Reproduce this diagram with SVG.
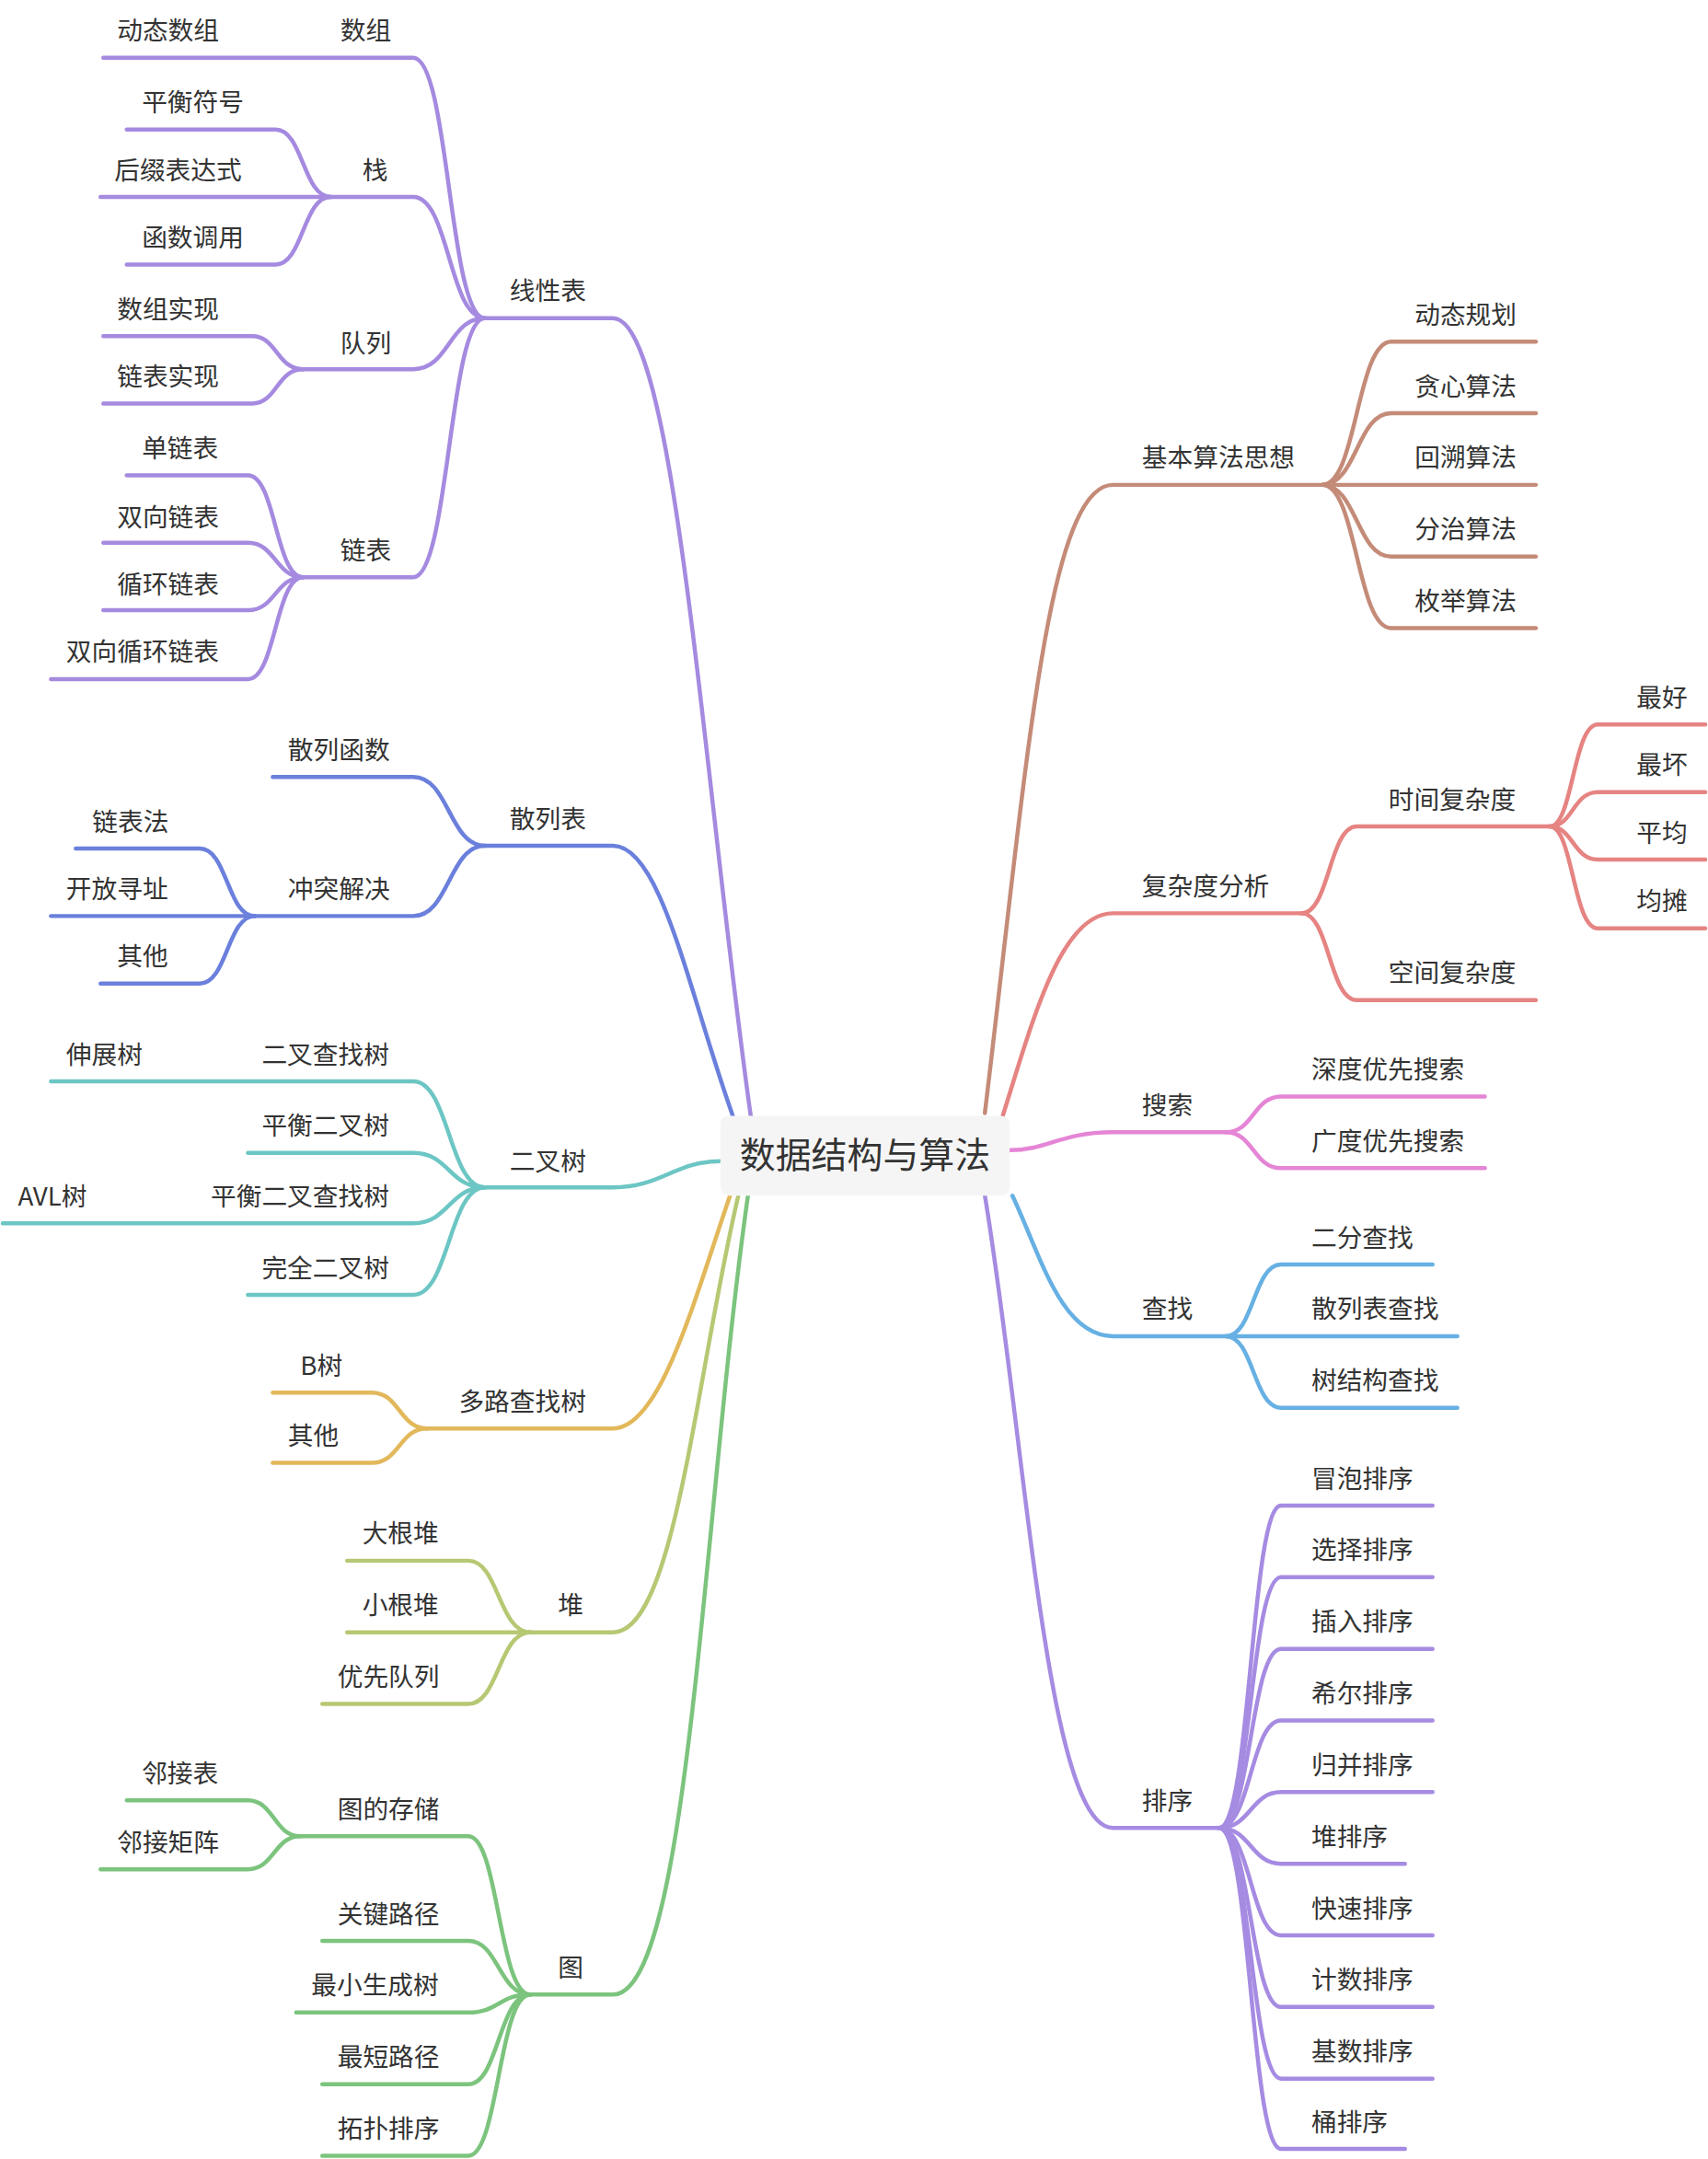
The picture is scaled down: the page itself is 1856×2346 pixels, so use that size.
<svg xmlns="http://www.w3.org/2000/svg" width="1856" height="2346" viewBox="0 0 1856 2346">
<style>
path{fill:none;stroke-width:3;stroke-linecap:round;stroke-linejoin:round}
text{font-family:"Noto Sans CJK SC","Noto Sans",sans-serif;font-size:18.5px;fill:#333}
.p{stroke:#a58ae0}.b{stroke:#6b80dc}.t{stroke:#6cc6c4}.y{stroke:#e2b85a}.o{stroke:#b6c873}.g{stroke:#7cc47e}
.br{stroke:#c48b78}.r{stroke:#e58482}.pk{stroke:#e585d6}.lb{stroke:#67b0e3}.ps{stroke:#a68be2}
</style>
<rect width="1856" height="2346" fill="#fff"/>
<g transform="scale(1.4968)">
<g id="connectors">
<path class="p" d="M75 42L300 42C326 42 326 231 352 231"/>
<path class="p" d="M240 143L300 143C326 143 326 231 352 231"/>
<path class="p" d="M92 94L200 94C220 94 220 143 240 143"/>
<path class="p" d="M73 143L240 143"/>
<path class="p" d="M92 192L200 192C220 192 220 143 240 143"/>
<path class="p" d="M220 268L300 268C326 268 326 231 352 231"/>
<path class="p" d="M75 244L183 244C201 244 201 268 220 268"/>
<path class="p" d="M75 293L183 293C201 293 201 268 220 268"/>
<path class="p" d="M220 419L300 419C326 419 326 231 352 231"/>
<path class="p" d="M92 345L180 345C200 345 200 419 220 419"/>
<path class="p" d="M75 394L180 394C200 394 200 419 220 419"/>
<path class="p" d="M75 443L180 443C200 443 200 419 220 419"/>
<path class="p" d="M37 493L180 493C200 493 200 419 220 419"/>
<path class="p" d="M352 231L445 231C490 231 510 560 545 810"/>
<path class="b" d="M352 614L445 614C480 614 500 720 532 810"/>
<path class="b" d="M198 564L300 564C326 564 326 614 352 614"/>
<path class="b" d="M185 665L300 665C326 665 326 614 352 614"/>
<path class="b" d="M55 616L145 616C165 616 165 665 185 665"/>
<path class="b" d="M37 665L185 665"/>
<path class="b" d="M73 714L145 714C165 714 165 665 185 665"/>
<path class="t" d="M352 862L445 862C480 862 490 843 523 843"/>
<path class="t" d="M37 785L300 785C326 785 326 862 352 862"/>
<path class="t" d="M180 837L300 837C326 837 326 862 352 862"/>
<path class="t" d="M2 888L300 888C326 888 326 862 352 862"/>
<path class="t" d="M180 940L300 940C326 940 326 862 352 862"/>
<path class="y" d="M310 1037L445 1037C480 1037 505 940 530 868"/>
<path class="y" d="M198 1011L270 1011C290 1011 290 1037 310 1037"/>
<path class="y" d="M198 1062L270 1062C290 1062 290 1037 310 1037"/>
<path class="o" d="M385 1185L445 1185C490 1185 505 1000 536 868"/>
<path class="o" d="M252 1133L340 1133C362 1133 362 1185 385 1185"/>
<path class="o" d="M252 1185L385 1185"/>
<path class="o" d="M234 1237L340 1237C362 1237 362 1185 385 1185"/>
<path class="g" d="M385 1448L445 1448C500 1448 510 1100 543 868"/>
<path class="g" d="M218 1333L340 1333C362 1333 362 1448 385 1448"/>
<path class="g" d="M92 1307L180 1307C199 1307 199 1333 218 1333"/>
<path class="g" d="M73 1357L180 1357C199 1357 199 1333 218 1333"/>
<path class="g" d="M234 1409L340 1409C362 1409 362 1448 385 1448"/>
<path class="g" d="M215 1461L340 1461C362 1461 362 1448 385 1448"/>
<path class="g" d="M234 1513L340 1513C362 1513 362 1448 385 1448"/>
<path class="g" d="M234 1565L340 1565C362 1565 362 1448 385 1448"/>
<path class="br" d="M715 808C745 560 760 352 808 352L960 352"/>
<path class="br" d="M960 352C985 352 985 248 1010 248L1115 248"/>
<path class="br" d="M960 352C985 352 985 300 1010 300L1115 300"/>
<path class="br" d="M960 352L1115 352"/>
<path class="br" d="M960 352C985 352 985 404 1010 404L1115 404"/>
<path class="br" d="M960 352C985 352 985 456 1010 456L1115 456"/>
<path class="r" d="M728 810C750 740 770 663 808 663L945 663"/>
<path class="r" d="M945 663C965 663 965 600 985 600L1125 600"/>
<path class="r" d="M945 663C965 663 965 726 985 726L1115 726"/>
<path class="r" d="M1125 600C1142 600 1142 526 1160 526L1238 526"/>
<path class="r" d="M1125 600C1142 600 1142 575 1160 575L1238 575"/>
<path class="r" d="M1125 600C1142 600 1142 624 1160 624L1238 624"/>
<path class="r" d="M1125 600C1142 600 1142 674 1160 674L1238 674"/>
<path class="pk" d="M733 835C760 835 770 822 808 822L890 822"/>
<path class="pk" d="M890 822C910 822 910 796 930 796L1078 796"/>
<path class="pk" d="M890 822C910 822 910 848 930 848L1078 848"/>
<path class="lb" d="M735 868C755 910 770 970 808 970L890 970"/>
<path class="lb" d="M890 970C910 970 910 918 930 918L1040 918"/>
<path class="lb" d="M890 970L1058 970"/>
<path class="lb" d="M890 970C910 970 910 1022 930 1022L1058 1022"/>
<path class="ps" d="M715 868C745 1050 760 1327 808 1327L885 1327"/>
<path class="ps" d="M885 1327C908 1327 908 1093 930 1093L1040 1093"/>
<path class="ps" d="M885 1327C908 1327 908 1145 930 1145L1040 1145"/>
<path class="ps" d="M885 1327C908 1327 908 1197 930 1197L1040 1197"/>
<path class="ps" d="M885 1327C908 1327 908 1249 930 1249L1040 1249"/>
<path class="ps" d="M885 1327C908 1327 908 1301 930 1301L1040 1301"/>
<path class="ps" d="M885 1327C908 1327 908 1353 930 1353L1020 1353"/>
<path class="ps" d="M885 1327C908 1327 908 1405 930 1405L1040 1405"/>
<path class="ps" d="M885 1327C908 1327 908 1457 930 1457L1040 1457"/>
<path class="ps" d="M885 1327C908 1327 908 1509 930 1509L1040 1509"/>
<path class="ps" d="M885 1327C908 1327 908 1560 930 1560L1020 1560"/>
</g>
<g id="root"><rect x="523" y="810" width="210" height="58" rx="6" fill="#f5f5f5"/><text x="628" y="848" text-anchor="middle" style="font-size:26px">数据结构与算法</text></g>
<g id="n-linear"><text x="370" y="218">线性表</text></g>
<g id="n-array"><text x="247" y="29">数组</text></g>
<g id="n-dynarray"><text x="85" y="29">动态数组</text></g>
<g id="n-stack"><text x="263" y="130">栈</text></g>
<g id="n-s1"><text x="103" y="81">平衡符号</text></g>
<g id="n-s2"><text x="83" y="130">后缀表达式</text></g>
<g id="n-s3"><text x="103" y="179">函数调用</text></g>
<g id="n-queue"><text x="247" y="256">队列</text></g>
<g id="n-q1"><text x="85" y="231">数组实现</text></g>
<g id="n-q2"><text x="85" y="280">链表实现</text></g>
<g id="n-list"><text x="247" y="406">链表</text></g>
<g id="n-l1"><text x="103" y="332">单链表</text></g>
<g id="n-l2"><text x="85" y="382">双向链表</text></g>
<g id="n-l3"><text x="85" y="431">循环链表</text></g>
<g id="n-l4"><text x="48" y="480">双向循环链表</text></g>
<g id="n-hash"><text x="370" y="601">散列表</text></g>
<g id="n-h1"><text x="209" y="551">散列函数</text></g>
<g id="n-h2"><text x="209" y="652">冲突解决</text></g>
<g id="n-h21"><text x="67" y="603">链表法</text></g>
<g id="n-h22"><text x="48" y="652">开放寻址</text></g>
<g id="n-h23"><text x="85" y="701">其他</text></g>
<g id="n-bt"><text x="370" y="850">二叉树</text></g>
<g id="n-b1"><text x="190" y="772">二叉查找树</text></g>
<g id="n-b11"><text x="48" y="772">伸展树</text></g>
<g id="n-b2"><text x="190" y="824">平衡二叉树</text></g>
<g id="n-b3"><text x="153" y="875">平衡二叉查找树</text></g>
<g id="n-b31"><text x="13" y="875">AVL树</text></g>
<g id="n-b4"><text x="190" y="927">完全二叉树</text></g>
<g id="n-mt"><text x="333" y="1024">多路查找树</text></g>
<g id="n-m1"><text x="218" y="998">B树</text></g>
<g id="n-m2"><text x="209" y="1049">其他</text></g>
<g id="n-heap"><text x="405" y="1172">堆</text></g>
<g id="n-hp1"><text x="263" y="1120">大根堆</text></g>
<g id="n-hp2"><text x="263" y="1172">小根堆</text></g>
<g id="n-hp3"><text x="245" y="1224">优先队列</text></g>
<g id="n-graph"><text x="405" y="1435">图</text></g>
<g id="n-g1"><text x="245" y="1320">图的存储</text></g>
<g id="n-g11"><text x="103" y="1294">邻接表</text></g>
<g id="n-g12"><text x="85" y="1344">邻接矩阵</text></g>
<g id="n-g2"><text x="245" y="1396">关键路径</text></g>
<g id="n-g3"><text x="226" y="1448">最小生成树</text></g>
<g id="n-g4"><text x="245" y="1500">最短路径</text></g>
<g id="n-g5"><text x="245" y="1552">拓扑排序</text></g>
<g id="n-algo"><text x="829" y="339">基本算法思想</text></g>
<g id="n-a1"><text x="1027" y="235">动态规划</text></g>
<g id="n-a2"><text x="1027" y="287">贪心算法</text></g>
<g id="n-a3"><text x="1027" y="339">回溯算法</text></g>
<g id="n-a4"><text x="1027" y="391">分治算法</text></g>
<g id="n-a5"><text x="1027" y="443">枚举算法</text></g>
<g id="n-cx"><text x="829" y="650">复杂度分析</text></g>
<g id="n-c1"><text x="1008" y="587">时间复杂度</text></g>
<g id="n-c11"><text x="1188" y="513">最好</text></g>
<g id="n-c12"><text x="1188" y="562">最坏</text></g>
<g id="n-c13"><text x="1188" y="611">平均</text></g>
<g id="n-c14"><text x="1188" y="661">均摊</text></g>
<g id="n-c2"><text x="1008" y="713">空间复杂度</text></g>
<g id="n-search"><text x="829" y="809">搜索</text></g>
<g id="n-se1"><text x="952" y="783">深度优先搜索</text></g>
<g id="n-se2"><text x="952" y="835">广度优先搜索</text></g>
<g id="n-find"><text x="829" y="957">查找</text></g>
<g id="n-f1"><text x="952" y="905">二分查找</text></g>
<g id="n-f2"><text x="952" y="957">散列表查找</text></g>
<g id="n-f3"><text x="952" y="1009">树结构查找</text></g>
<g id="n-sort"><text x="829" y="1314">排序</text></g>
<g id="n-so1"><text x="952" y="1080">冒泡排序</text></g>
<g id="n-so2"><text x="952" y="1132">选择排序</text></g>
<g id="n-so3"><text x="952" y="1184">插入排序</text></g>
<g id="n-so4"><text x="952" y="1236">希尔排序</text></g>
<g id="n-so5"><text x="952" y="1288">归并排序</text></g>
<g id="n-so6"><text x="952" y="1340">堆排序</text></g>
<g id="n-so7"><text x="952" y="1392">快速排序</text></g>
<g id="n-so8"><text x="952" y="1444">计数排序</text></g>
<g id="n-so9"><text x="952" y="1496">基数排序</text></g>
<g id="n-so10"><text x="952" y="1547">桶排序</text></g>
</g>
</svg>
